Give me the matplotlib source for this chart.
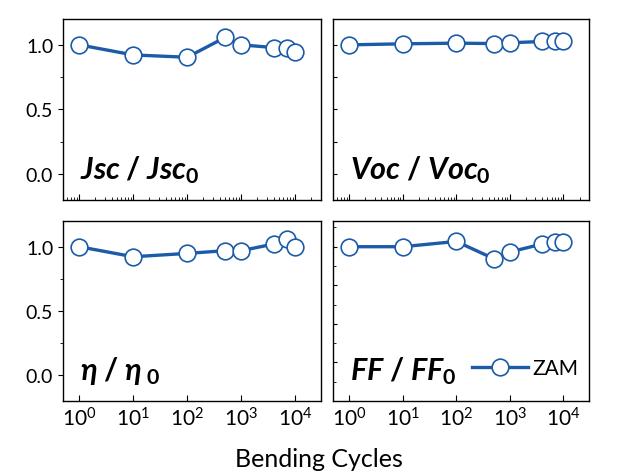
import numpy as np
import matplotlib
matplotlib.use('Agg')
import matplotlib.pyplot as plt
from matplotlib.ticker import FixedLocator, FixedFormatter, LogLocator, NullFormatter

plt.rcParams['font.family'] = ['Lato', 'DejaVu Sans']
plt.rcParams['mathtext.fontset'] = 'custom'
plt.rcParams['mathtext.it'] = 'Lato:italic:bold'
plt.rcParams['mathtext.rm'] = 'Lato:bold'
plt.rcParams['mathtext.bf'] = 'Lato:bold'

# --- data (normalised to the unbent value) ---
cycles = [1, 10, 100, 500, 1000, 4000, 7000, 10000]
jsc = [1.0, 0.922, 0.904, 1.057, 1.0, 0.979, 0.979, 0.943]
voc = [1.0, 1.008, 1.013, 1.010, 1.016, 1.026, 1.031, 1.031]
eff = [1.0, 0.922, 0.948, 0.969, 0.969, 1.021, 1.057, 1.0]
ff = [1.0, 1.0, 1.041, 0.907, 0.959, 1.021, 1.039, 1.039]

panel_labels = [r'$Jsc\;/\;Jsc_{\mathbf{0}}$', r'$Voc\;/\;Voc_{\mathbf{0}}$',
                r'$\eta\;/\;\eta_{\ \mathbf{0}}$', r'$FF\;/\;FF_{\mathbf{0}}$']
series = [jsc, voc, eff, ff]
xtick_vals = [1, 10, 100, 1000, 10000]
xtick_labels = [r'$\mathregular{10^{%d}}$' % i for i in range(5)]

blue = '#1c5ba8'

fig = plt.figure(figsize=(6.38, 4.77), dpi=100)
pos = [[0.0987, 0.5786, 0.4044, 0.3795],
       [0.522, 0.5786, 0.4013, 0.3795],
       [0.0987, 0.1572, 0.4044, 0.3774],
       [0.522, 0.1572, 0.4013, 0.3774]]

for i in range(4):
    ax = fig.add_axes(pos[i])
    ax.plot(cycles, series[i], '-o', color=blue, lw=2.4, ms=12,
            mfc='white', mec=blue, mew=1.2, label='ZAM')
    ax.set_xscale('log')
    ax.set_xlim(0.5, 3e4)
    ax.set_ylim(-0.2, 1.2)
    ax.xaxis.set_major_locator(FixedLocator(xtick_vals))
    ax.xaxis.set_minor_locator(LogLocator(base=10, subs=np.arange(2, 10)))
    ax.xaxis.set_minor_formatter(NullFormatter())
    ax.tick_params(axis='x', which='major', direction='in', length=4, width=0.8)
    ax.tick_params(axis='x', which='minor', direction='in', length=2, width=0.6)
    if i >= 2:
        ax.xaxis.set_major_formatter(FixedFormatter(xtick_labels))
        ax.tick_params(axis='x', labelsize=15, pad=4)
    else:
        ax.set_xticklabels([])

    if i % 2 == 0:
        ax.set_yticks([0.0, 0.5, 1.0])
        ax.set_yticks([0.25, 0.75], minor=True)
        ax.set_yticklabels(['0.0', '0.5', '1.0'])
        ax.tick_params(axis='y', which='major', direction='out', length=3.5, width=0.8, labelsize=14)
        ax.tick_params(axis='y', which='minor', direction='out', length=2, width=0.6)
    else:
        if i == 1:
            ax.set_yticks([0.0, 0.25, 0.5, 0.75, 1.0])
        else:
            ax.set_yticks([0.1, 0.4, 0.7, 1.0])
            ax.set_yticks([-0.05, 0.25, 0.55, 0.85, 1.15], minor=True)
        ax.set_yticklabels([])
        ax.tick_params(axis='y', which='major', direction='in', length=3, width=0.8)
        ax.tick_params(axis='y', which='minor', direction='in', length=2, width=0.6)
    for s in ax.spines.values():
        s.set_linewidth(1.0)

    ax.text(0.065, 0.12, panel_labels[i], transform=ax.transAxes,
            fontsize=22, ha='left', va='baseline')

    if i == 3:
        ax.legend(loc='lower right', frameon=False, fontsize=15, handlelength=2.7,
                  handletextpad=0.2, borderaxespad=0.1, bbox_to_anchor=(1.0, 0.07))

fig.text(0.5, 0.022, 'Bending Cycles', ha='center', va='baseline', fontsize=18)

fig.savefig('out.png', dpi=100)
